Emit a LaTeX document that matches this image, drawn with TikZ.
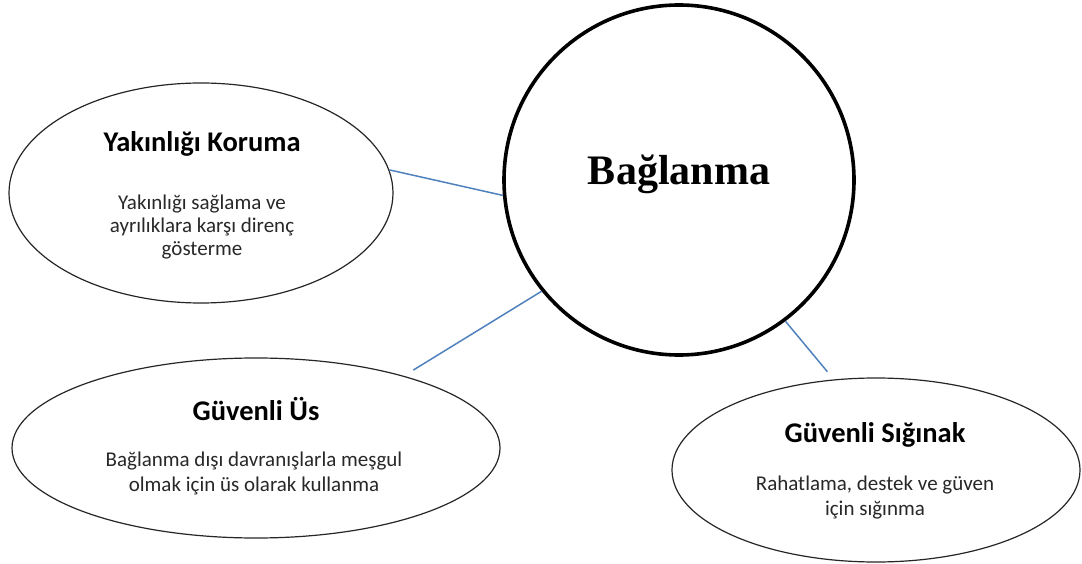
\documentclass[tikz,border=0pt]{standalone}
\usepackage{fontspec}
\setmainfont{Carlito}
\newfontfamily\serifbold{Liberation Serif}
\usetikzlibrary{shapes.geometric}
\definecolor{linkblue}{RGB}{79,129,189}
\definecolor{bodygray}{RGB}{40,40,40}
\tikzset{
  oval/.style={draw=black!85, line width=1.2pt, ellipse, inner sep=0pt, fill=white},
  hub/.style={draw=black, line width=3.6pt, circle, inner sep=0pt, minimum size=350pt, fill=white},
  titletext/.style={anchor=base, font=\fontsize{28.5}{30}\selectfont\bfseries, text=black},
  bodytext/.style={anchor=base, font=\fontsize{21}{23}\selectfont, text=bodygray},
  link/.style={draw=linkblue, line width=1.5pt}
}
\begin{document}
\begin{tikzpicture}[x=1pt,y=-1pt]
\useasboundingbox (0,0) rectangle (1082,564);
% main circle
\node[hub] (c) at (679,180) {};
\node[anchor=base, font=\serifbold\fontsize{42}{44}\selectfont\bfseries] (ct) at (679,185) {Bağlanma};
% ellipses
\node[oval, minimum width=384pt, minimum height=220pt] (e1) at (201,193) {};
\node[oval, minimum width=488pt, minimum height=180pt] (e2) at (256,448) {};
\node[oval, minimum width=408pt, minimum height=184pt] (e3) at (876,470) {};
% texts
\node[titletext] (e1t) at (202,152) {Yakınlığı Koruma};
\node[bodytext] (e1a) at (202,210) {Yakınlığı sağlama ve};
\node[bodytext] (e1b) at (202,233) {ayrılıklara karşı direnç};
\node[bodytext] (e1c) at (202,256) {gösterme};
\node[titletext] (e2t) at (256,420) {Güvenli Üs};
\node[bodytext] (e2a) at (254,466) {Bağlanma dışı davranışlarla meşgul};
\node[bodytext] (e2b) at (254,491) {olmak için üs olarak kullanma};
\node[titletext] (e3t) at (875,442) {Güvenli Sığınak};
\node[bodytext] (e3a) at (875,490) {Rahatlama, destek ve güven};
\node[bodytext] (e3b) at (875,515) {için sığınma};
% connectors
\draw[link] (e1.7.9) -- (c.185.8);
\draw[link, shorten <=11pt] (e2.26.1) -- (c.219.1);
\draw[link, shorten >=10pt] (c.307.5) -- (e3.115);
\end{tikzpicture}
\end{document}
